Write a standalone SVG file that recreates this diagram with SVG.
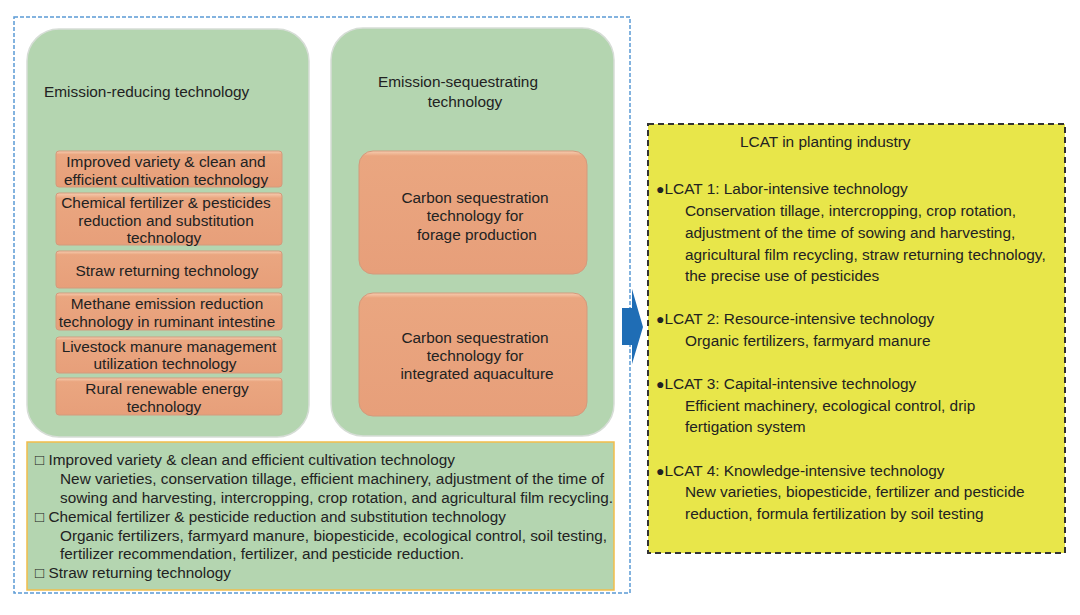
<svg xmlns="http://www.w3.org/2000/svg" width="1080" height="615" viewBox="0 0 1080 615">
<defs>
<linearGradient id="og" x1="0" y1="0" x2="0" y2="1">
<stop offset="0" stop-color="#F6CDB0"/>
<stop offset="0.1" stop-color="#EAA680"/>
<stop offset="1" stop-color="#E79F7A"/>
</linearGradient>
<linearGradient id="og2" x1="0" y1="0" x2="0" y2="1">
<stop offset="0" stop-color="#F6CDB0"/>
<stop offset="0.04" stop-color="#EAA680"/>
<stop offset="1" stop-color="#E79F7A"/>
</linearGradient>
<style>
text{font-family:"Liberation Sans",Arial,sans-serif;font-size:15.4px;fill:#222}
.c{text-anchor:middle}
.b{font-size:14px}
.panel{fill:#B4D5B0;stroke:#D6DDD6;stroke-width:1.5}
.ob{fill:url(#og);stroke:#D39A7C;stroke-width:1}
.ob2{fill:url(#og2);stroke:#D39A7C;stroke-width:1}
</style>
</defs>
<rect width="1080" height="615" fill="#fff"/>
<rect id="outer" x="14" y="17" width="616" height="576" fill="none" stroke="#5B9BD5" stroke-width="1.5" stroke-dasharray="4 2"/>
<g id="reducing">
<rect class="panel" x="27" y="29" width="282" height="408" rx="32"/>
<text x="44" y="97">Emission-reducing technology</text>
</g>
<g id="r1"><rect class="ob" x="56" y="151" width="226" height="36" rx="3"/>
<text class="c" x="166" y="167">Improved variety &amp; clean and</text>
<text class="c" x="166" y="185">efficient cultivation technology</text></g>
<g id="r2"><rect class="ob" x="56" y="193" width="226" height="52" rx="3"/>
<text class="c" x="166" y="208">Chemical fertilizer &amp; pesticides</text>
<text class="c" x="166" y="226">reduction and substitution</text>
<text class="c" x="164" y="243">technology</text></g>
<g id="r3"><rect class="ob" x="56" y="251" width="226" height="37" rx="3"/>
<text class="c" x="167" y="276">Straw returning technology</text></g>
<g id="r4"><rect class="ob" x="56" y="293" width="226" height="37" rx="3"/>
<text class="c" x="167" y="309">Methane emission reduction</text>
<text class="c" x="167" y="327">technology in ruminant intestine</text></g>
<g id="r5"><rect class="ob" x="56" y="337" width="226" height="36" rx="3"/>
<text class="c" x="169" y="352">Livestock manure management</text>
<text class="c" x="165" y="369">utilization technology</text></g>
<g id="r6"><rect class="ob" x="56" y="378" width="226" height="37" rx="3"/>
<text class="c" x="167" y="394">Rural renewable energy</text>
<text class="c" x="164" y="412">technology</text></g>
<g id="sequestrating">
<rect class="panel" x="331" y="28" width="283" height="408" rx="32"/>
<text class="c" x="458" y="87">Emission-sequestrating</text>
<text class="c" x="465" y="107">technology</text>
</g>
<g id="s1"><rect class="ob2" x="359" y="151" width="228" height="123" rx="14"/>
<text class="c" x="475" y="203">Carbon sequestration</text>
<text class="c" x="475" y="221">technology for</text>
<text class="c" x="477" y="240">forage production</text></g>
<g id="s2"><rect class="ob2" x="359" y="293" width="228" height="123" rx="14"/>
<text class="c" x="475" y="343">Carbon sequestration</text>
<text class="c" x="475" y="361">technology for</text>
<text class="c" x="477" y="379">integrated aquaculture</text></g>
<g id="details">
<rect x="27" y="442" width="587" height="148" fill="#B4D5B0" stroke="#F2BD4A" stroke-width="1.5"/>
<text x="35" y="465" textLength="420" lengthAdjust="spacingAndGlyphs">□ Improved variety &amp; clean and efficient cultivation technology</text>
<text x="60" y="484" textLength="544" lengthAdjust="spacingAndGlyphs">New varieties, conservation tillage, efficient machinery, adjustment of the time of</text>
<text x="60" y="503" textLength="553" lengthAdjust="spacingAndGlyphs">sowing and harvesting, intercropping, crop rotation, and agricultural film recycling.</text>
<text x="35" y="522" textLength="471" lengthAdjust="spacingAndGlyphs">□ Chemical fertilizer &amp; pesticide reduction and substitution technology</text>
<text x="60" y="541" textLength="547" lengthAdjust="spacingAndGlyphs">Organic fertilizers, farmyard manure, biopesticide, ecological control, soil testing,</text>
<text x="60" y="559" textLength="404" lengthAdjust="spacingAndGlyphs">fertilizer recommendation, fertilizer, and pesticide reduction.</text>
<text x="35" y="578" textLength="196" lengthAdjust="spacingAndGlyphs">□ Straw returning technology</text>
</g>
<g id="connectors">
<polygon points="622,308 632,308 632,289 643,327 632,364 632,345 622,345" fill="#1F6DB5"/>
</g>
<g id="lcat">
<rect x="648" y="124" width="417" height="429" fill="#E8E64A" stroke="#333" stroke-width="2" stroke-dasharray="6 4"/>
<text x="740" y="147">LCAT in planting industry</text>
<text x="656" y="194"><tspan class="b">●</tspan>LCAT 1: Labor-intensive technology</text>
<text x="685" y="216">Conservation tillage, intercropping, crop rotation,</text>
<text x="685" y="238">adjustment of the time of sowing and harvesting,</text>
<text x="685" y="260">agricultural film recycling, straw returning technology,</text>
<text x="685" y="281">the precise use of pesticides</text>
<text x="656" y="324"><tspan class="b">●</tspan>LCAT 2: Resource-intensive technology</text>
<text x="685" y="346">Organic fertilizers, farmyard manure</text>
<text x="656" y="389"><tspan class="b">●</tspan>LCAT 3: Capital-intensive technology</text>
<text x="685" y="411">Efficient machinery, ecological control, drip</text>
<text x="685" y="432">fertigation system</text>
<text x="656" y="476"><tspan class="b">●</tspan>LCAT 4: Knowledge-intensive technology</text>
<text x="685" y="497">New varieties, biopesticide, fertilizer and pesticide</text>
<text x="685" y="519">reduction, formula fertilization by soil testing</text>
</g>
</svg>
